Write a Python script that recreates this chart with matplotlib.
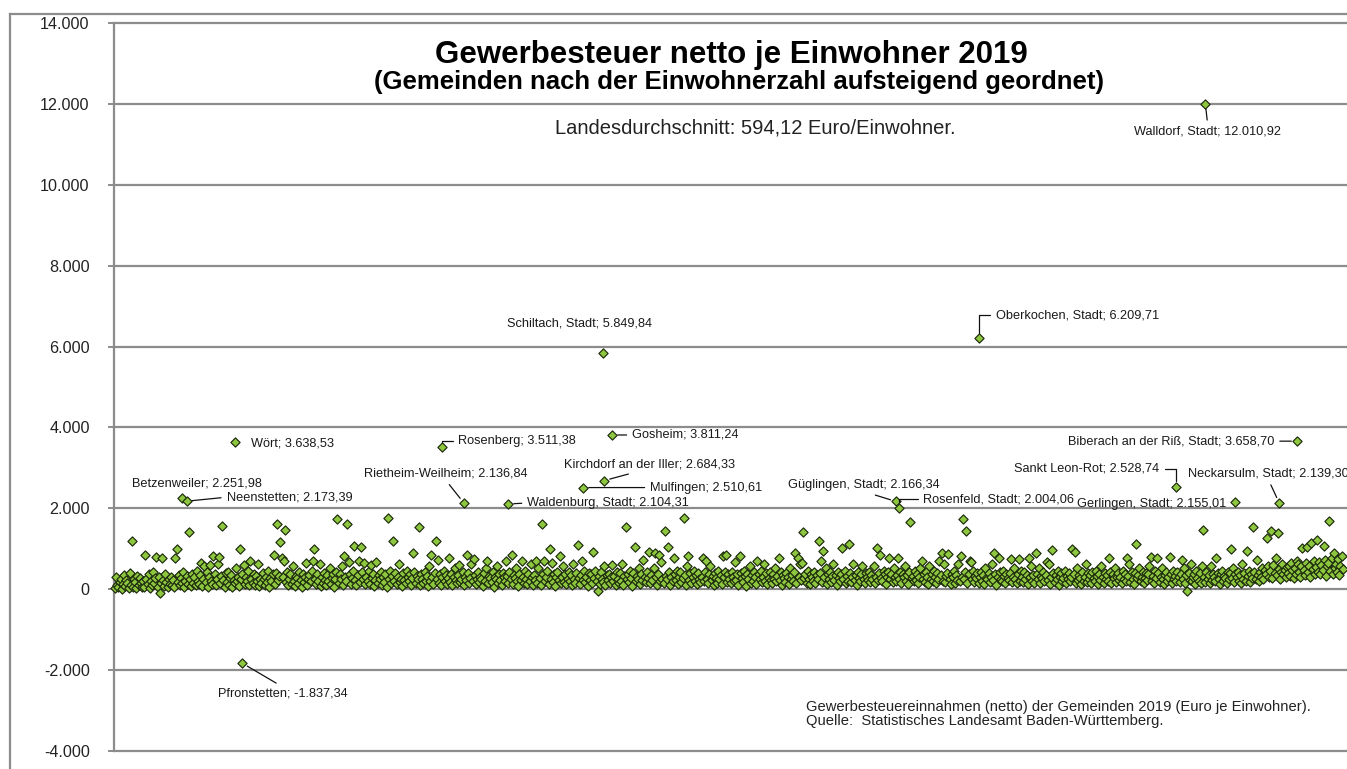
import numpy as np
import matplotlib
matplotlib.use("Agg")
import matplotlib.pyplot as plt
from matplotlib.lines import Line2D

plt.rcParams['font.family'] = ['Liberation Sans', 'DejaVu Sans']

# Gewerbesteuer netto je Einwohner (Euro), Gemeinden nach Einwohnerzahl aufsteigend (aus dem Bild geschaetzt)
werte = [
    20, 310, 90, 40, 180, 260, 10, 130, 350, 70, 220, 150, 30, 400, 110, 1200, 60, 240, 170, 20, 330, 90, 280, 140, 50,
    190, 60, 830, 250, 120, 370, 30, 200, 90, 430, 160, 280, 800, 50, 310, -100, 140, 770, 220, 80, 360, 170, 40, 260, 120,
    300, 110, 230, 60, 760, 990, 180, 340, 90, 270, 150, 420, 40, 210, 330, 120, 1400, 250, 70, 380, 160, 290, 100, 450, 200,
    130, 350, 650, 80, 240, 560, 170, 410, 60, 290, 600, 200, 130, 820, 370, 90, 260, 620, 800, 150, 320, 1550, 220, 60, 390,
    180, 430, 100, 280, 350, 50, 220, 140, 520, 190, 310, 80, 1000, 250, 370, 600, 120, 300, 200, 440, 90, 700, 260, 160, 380,
    110, 330, 200, 620, 70, 260, 150, 390, 240, 90, 310, 170, 450, 60, 280, 210, 360, 840, 130, 400, 1600, 230, 320, 1160, 780,
    290, 700, 1460, 180, 420, 90, 250, 360, 130, 560, 200, 80, 330, 270, 140, 410, 230, 60, 380, 170, 300, 650, 110, 240, 350,
    190, 440, 700, 1000, 260, 120, 370, 210, 620, 70, 300, 160, 400, 230, 90, 340, 190, 520, 130, 280, 380, 60, 250, 420, 1730,
    150, 360, 240, 560, 100, 820, 300, 200, 1600, 670, 380, 130, 280, 450, 1060, 220, 90, 340, 690, 180, 1030, 410, 250, 640, 120,
    310, 200, 450, 130, 600, 270, 380, 80, 230, 680, 160, 340, 250, 420, 100, 290, 180, 370, 60, 1750, 260, 440, 150, 330, 1185,
    210, 400, 120, 310, 620, 170, 260, 70, 390, 230, 140, 450, 300, 190, 360, 90, 270, 890, 420, 160, 330, 240, 1530, 110, 380,
    260, 150, 430, 210, 330, 80, 560, 190, 840, 290, 120, 400, 1200, 250, 720, 160, 360, 100, 300, 440, 200, 340, 130, 270, 765,
    180, 380, 90, 290, 520, 220, 140, 350, 590, 170, 260, 410, 110, 310, 230, 840, 400, 150, 280, 620, 200, 740, 340, 120, 260,
    430, 170, 310, 250, 80, 390, 210, 520, 700, 140, 330, 270, 180, 420, 60, 300, 240, 560, 150, 360, 220, 100, 400, 290, 190,
    700, 320, 150, 410, 240, 840, 120, 350, 270, 520, 190, 80, 380, 230, 700, 310, 160, 440, 260, 130, 370, 200, 620, 290, 110,
    340, 220, 700, 150, 520, 280, 90, 1600, 380, 700, 200, 310, 440, 130, 990, 250, 650, 170, 360, 80, 290, 410, 230, 820, 150,
    300, 560, 180, 370, 120, 260, 420, 210, 340, 90, 620, 240, 160, 390, 1085, 270, 130, 350, 700, 220, 450, 170, 310, 80, 400,
    230, 360, 150, 910, 280, 440, 190, -50, 320, 120, 410, 250, 170, 560, 90, 340, 220, 380, 140, 290, 590, 200, 330, 110, 430,
    260, 150, 390, 210, 620, 100, 320, 1530, 240, 360, 170, 440, 280, 70, 400, 1040, 190, 330, 250, 520, 130, 370, 220, 720, 300,
    180, 420, 270, 910, 140, 350, 230, 520, 880, 300, 110, 380, 840, 200, 680, 260, 160, 1430, 330, 240, 1040, 410, 90, 310, 190,
    780, 360, 220, 450, 130, 300, 410, 180, 270, 1750, 340, 100, 560, 810, 230, 390, 160, 290, 440, 200, 350, 120, 400, 250, 170,
    310, 770, 190, 420, 700, 260, 140, 370, 560, 220, 330, 90, 400, 280, 160, 450, 240, 350, 120, 820, 300, 420, 840, 180, 380,
    260, 140, 430, 300, 190, 680, 230, 360, 110, 820, 400, 270, 170, 450, 320, 80, 380, 240, 560, 150, 340, 210, 420, 290, 130,
    700, 360, 240, 440, 170, 310, 620, 200, 390, 120, 280, 430, 230, 150, 370, 260, 520, 190, 330, 770, 220, 410, 100, 350, 280,
    180, 400, 290, 130, 520, 240, 350, 200, 420, 890, 150, 780, 310, 620, 230, 650, 1400, 270, 380, 160, 440, 250, 120, 360, 300,
    210, 430, 150, 340, 260, 1190, 390, 700, 180, 940, 300, 520, 130, 370, 240, 410, 170, 320, 620, 220, 350, 100, 430, 270, 190,
    380, 1010, 260, 450, 140, 320, 210, 1110, 400, 170, 290, 620, 230, 350, 110, 420, 270, 190, 360, 560, 250, 140, 390, 300, 220,
    430, 180, 340, 260, 560, 150, 310, 1010, 220, 400, 840, 280, 190, 450, 360, 120, 300, 420, 765, 240, 380, 170, 520, 290, 210,
    340, 765, 250, 430, 160, 380, 290, 560, 200, 350, 120, 410, 1650, 270, 320, 190, 450, 230, 380, 140, 300, 520, 700, 250, 360,
    180, 420, 290, 130, 560, 240, 360, 200, 440, 310, 150, 390, 260, 700, 340, 890, 210, 620, 170, 330, 400, 870, 250, 120, 370,
    290, 440, 160, 350, 230, 620, 190, 820, 310, 1730, 260, 410, 1430, 140, 370, 700, 680, 240, 450, 180, 330, 270, 400, 150, 310,
    420, 200, 350, 130, 520, 280, 240, 390, 170, 310, 620, 220, 880, 360, 110, 300, 760, 410, 250, 190, 440, 330, 150, 380, 270,
    230, 400, 740, 170, 310, 520, 260, 140, 380, 740, 210, 450, 300, 180, 420, 250, 350, 120, 760, 290, 560, 200, 340, 160, 880,
    380, 240, 520, 150, 320, 270, 420, 190, 350, 660, 220, 620, 130, 300, 960, 400, 170, 340, 260, 440, 110, 310, 390, 210, 280,
    450, 160, 330, 250, 400, 190, 290, 990, 370, 920, 140, 520, 230, 350, 280, 120, 420, 200, 310, 620, 170, 390, 240, 340, 150,
    410, 270, 190, 450, 320, 130, 380, 230, 560, 290, 160, 400, 250, 340, 200, 760, 430, 140, 360, 280, 520, 180, 310, 390, 220,
    300, 150, 440, 260, 370, 200, 760, 330, 620, 170, 410, 240, 120, 390, 1110, 280, 350, 520, 190, 310, 430, 150, 270, 400, 230,
    360, 560, 800, 210, 330, 150, 440, 280, 780, 390, 170, 310, 520, 240, 120, 350, 420, 200, 290, 800, 380, 160, 450, 260, 330,
    210, 420, 300, 170, 380, 720, 250, 520, 140, 340, -50, 400, 230, 620, 190, 310, 360, 130, 440, 270, 210, 390, 160, 560, 1460,
    300, 180, 430, 260, 350, 140, 560, 220, 380, 310, 190, 770, 400, 250, 120, 360, 450, 200, 330, 280, 160, 420, 240, 390, 990,
    270, 520, 180, 370, 300, 430, 210, 340, 150, 620, 260, 390, 200, 940, 320, 450, 170, 360, 280, 1530, 410, 240, 720, 350, 190,
    430, 300, 520, 240, 470, 380, 1260, 560, 310, 450, 1430, 280, 600, 390, 765, 340, 1380, 500, 250, 430, 620, 360, 480, 290, 550,
    400, 580, 330, 650, 460, 280, 520, 370, 700, 610, 430, 300, 560, 1010, 480, 350, 640, 1040, 420, 580, 310, 1140, 500, 690, 380,
    540, 1210, 420, 680, 360, 590, 470, 1060, 720, 330, 560, 640, 1680, 450, 770, 380, 890, 520, 610, 430, 740, 350, 580, 820, 490,
]

# beschriftete Gemeinden
namen = ["Betzenweiler", "Neenstetten", "Wört", "Pfronstetten", "Rosenberg",
         "Rietheim-Weilheim", "Waldenburg, Stadt", "Schiltach, Stadt", "Gosheim",
         "Kirchdorf an der Iller", "Mulfingen", "Güglingen, Stadt", "Rosenfeld, Stadt",
         "Oberkochen, Stadt", "Gerlingen, Stadt", "Sankt Leon-Rot", "Walldorf, Stadt",
         "Neckarsulm, Stadt", "Biberach an der Riß, Stadt"]
rang = [60, 64, 107, 114, 293, 312, 352, 437, 445, 438, 419, 699, 702, 773, 1003, 950, 976, 1042, 1058]
wert = [2251.98, 2173.39, 3638.53, -1837.34, 3511.38, 2136.84, 2104.31, 5849.84, 3811.24,
        2684.33, 2510.61, 2166.34, 2004.06, 6209.71, 2155.01, 2528.74, 12010.92, 2139.30, 3658.70]

y_ticks = [-4000, -2000, 0, 2000, 4000, 6000, 8000, 10000, 12000, 14000]

# label layout: pixel offset of text left/centre from point, leader anchor on text, leader style
L0 = "arc3,rad=0"
EL = "angle,angleA=0,angleB=90,rad=0"
label_layout = [
    (-50, 15, None, None),            # Betzenweiler
    (40, 4, (0, 0.5), L0),            # Neenstetten
    (16, -2, None, None),             # Wört
    (-24, -30, (0.5, 1), L0),         # Pfronstetten
    (16, 6, (0, 0.5), EL),            # Rosenberg
    (-100, 29, (0.5, 0), L0),         # Rietheim-Weilheim
    (19, 1, (0, 0.5), L0),            # Waldenburg
    (-96, 29, None, None),            # Schiltach
    (20, 0, (0, 0.5), L0),            # Gosheim
    (-40, 16, (0.45, 0), L0),         # Kirchdorf
    (67, 0, (0, 0.5), L0),            # Mulfingen
    (-108, 16, (0.5, 0), L0),         # Güglingen
    (24, 9, (0, 0.5), EL),            # Rosenfeld
    (17, 23, (0, 0.5), EL),           # Oberkochen
    (-158, -2, None, None),           # Gerlingen
    (-162, 18, (1, 0.5), EL),         # Sankt Leon-Rot
    (-71, -28, (0.5, 1), L0),         # Walldorf
    (-91, 29, (0.5, 0), L0),          # Neckarsulm
    (-229, 0, (1, 0.5), L0),          # Biberach
]


def de_num(v, dec=0):
    s = f"{v:,.{dec}f}"
    return s.replace(",", "X").replace(".", ",").replace("X", ".")


W, H = 1347, 769
fig = plt.figure(figsize=(W / 100, H / 100), dpi=100)
fig.patch.set_facecolor('white')

grid_c = '#8c8c8c'
ax_left_px, ax_top_px, ax_bot_px, ax_right_px = 114, 23.2, 750.7, 1400
ax = fig.add_axes([ax_left_px / W, (H - ax_bot_px) / H,
                   (ax_right_px - ax_left_px) / W, (ax_bot_px - ax_top_px) / H])
ax.set_facecolor('white')

px_per = 1.117
ax.set_xlim(-1, -1 + (ax_right_px - ax_left_px) / px_per)
ax.set_ylim(-4000, 14000)

for s in ['top', 'right', 'bottom']:
    ax.spines[s].set_visible(False)
ax.spines['left'].set_color(grid_c)
ax.spines['left'].set_linewidth(1.6)

for yv in y_ticks:
    ax.axhline(yv, color=grid_c, lw=1.6, zorder=0, clip_on=False)

ax.set_yticks(y_ticks)
ax.set_yticklabels([de_num(v) for v in y_ticks])
ax.tick_params(axis='y', direction='out', length=4.5, width=1.4, color=grid_c,
               labelsize=11.6, labelcolor='#222222', pad=13)
ax.set_xticks([])

x = np.arange(len(werte))
ax.scatter(x, werte, marker='D', s=22, facecolor='#8DC63F', edgecolor='#1C2A0C',
           linewidths=0.85, zorder=3, clip_on=False)
ax.scatter(rang, wert, marker='D', s=22, facecolor='#8DC63F', edgecolor='#1C2A0C',
           linewidths=0.85, zorder=4, clip_on=False)

for name, r, v, (dx, dy, rel, conn) in zip(namen, rang, wert, label_layout):
    txt = f"{name}; {de_num(v, 2)}"
    kw = dict(xy=(r, v), xytext=(dx, dy), textcoords='offset pixels', ha='left', va='center',
              fontsize=9.2, color='#1a1a1a', zorder=5, annotation_clip=False)
    if rel is not None:
        kw['arrowprops'] = dict(arrowstyle='-', color='#111111', lw=0.9, shrinkA=2, shrinkB=4,
                                relpos=rel, connectionstyle=conn)
    ax.annotate(txt, **kw)

# outer frame
fig.add_artist(Line2D([10 / W, 10 / W], [0, 1 - 14 / H], color=grid_c, lw=1.6))
fig.add_artist(Line2D([10 / W, 1], [1 - 14 / H, 1 - 14 / H], color=grid_c, lw=1.6))


def ftext(px, py, s, **kw):
    fig.text(px / W, 1 - py / H, s, **kw)


ftext(731, 54.5, "Gewerbesteuer netto je Einwohner 2019", ha='center', va='center',
      fontsize=22.5, fontweight='bold', color='black')
ftext(739, 81.5, "(Gemeinden nach der Einwohnerzahl aufsteigend geordnet)", ha='center',
      va='center', fontsize=18.5, fontweight='bold', color='black')
ftext(755, 127.5, "Landesdurchschnitt: 594,12 Euro/Einwohner.", ha='center', va='center',
      fontsize=14.5, color='#222222')
ftext(806, 706.5, "Gewerbesteuereinnahmen (netto) der Gemeinden 2019 (Euro je Einwohner).",
      ha='left', va='center', fontsize=10.6, color='#222222')
ftext(806, 721.5, "Quelle:  Statistisches Landesamt Baden-Württemberg.",
      ha='left', va='center', fontsize=10.6, color='#222222')

fig.savefig('out.png', dpi=100)
